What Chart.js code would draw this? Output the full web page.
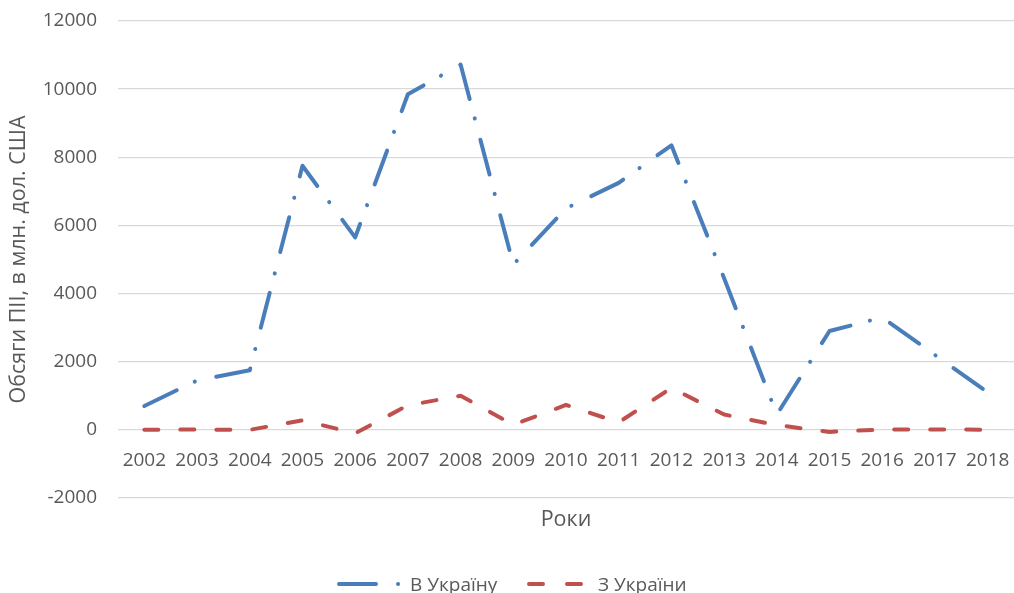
<!DOCTYPE html>
<html>
<head>
<meta charset="utf-8">
<script src="https://cdn.jsdelivr.net/npm/chart.js@4.4.1/dist/chart.umd.min.js"></script>
<style>
  html, body { margin: 0; padding: 0; background: #fff; }
  #wrap { width: 1014px; height: 593px; position: relative; }
</style>
</head>
<body>
<div id="wrap"><canvas id="fdiChart"></canvas></div>
<script>
// years on the category axis
const years = ['2002', '2003', '2004', '2005', '2006', '2007', '2008', '2009', '2010',
               '2011', '2012', '2013', '2014', '2015', '2016', '2017', '2018'];

// FDI into Ukraine, mln USD
const intoUkraine = [700, 1450, 1750, 7750, 5650, 9850, 10720, 4850, 6500,
                     7250, 8350, 4450, 450, 2900, 3300, 2200, 1100];

// FDI from Ukraine, mln USD
const fromUkraine = [0, 10, 0, 280, -100, 720, 1000, 150, 730,
                     220, 1230, 450, 140, -60, 10, 10, 5];

// value axis ticks
const yMin = -2000;
const yMax = 12000;
const yStep = 2000;

const seriesNames = ['В Україну', 'З України'];
const xTitle = 'Роки';
const yTitle = 'Обсяги ПІІ, в млн. дол. США';

const blue = '#4a7ebb';
const red = '#c0504d';
const textGray = '#595959';

Chart.defaults.font.family = '"Open Sans", sans-serif';
Chart.defaults.font.size = 19;
Chart.defaults.color = textGray;

// axis title "Роки" and the legend are drawn by hand (dash-dot samples)
const extraText = {
  id: 'extraText',
  afterDraw(chart) {
    const ctx = chart.ctx;
    const area = chart.chartArea;
    ctx.save();
    ctx.font = '21.5px "Open Sans"';
    ctx.fillStyle = textGray;
    ctx.textBaseline = 'alphabetic';
    ctx.textAlign = 'center';
    ctx.fillText(xTitle, (area.left + area.right) / 2, 526);

    // legend
    const ly = 584;
    ctx.lineCap = 'round';
    ctx.lineWidth = 4;
    ctx.strokeStyle = blue;
    ctx.beginPath();
    ctx.moveTo(339, ly);
    ctx.lineTo(376, ly);
    ctx.stroke();
    ctx.beginPath();
    ctx.moveTo(398, ly);
    ctx.lineTo(398.1, ly);
    ctx.stroke();

    ctx.strokeStyle = red;
    ctx.beginPath();
    ctx.moveTo(529, ly);
    ctx.lineTo(543, ly);
    ctx.moveTo(567, ly);
    ctx.lineTo(581, ly);
    ctx.stroke();

    ctx.font = '19px "Open Sans"';
    ctx.textAlign = 'left';
    ctx.fillText(seriesNames[0], 410, 591);
    ctx.fillText(seriesNames[1], 598, 591);
    ctx.restore();
  }
};

const ctx = document.getElementById('fdiChart').getContext('2d');
const fdiChart = new Chart(ctx, {
  type: 'line',
  data: {
    labels: years,
    datasets: [
      {
        label: seriesNames[0],
        data: intoUkraine,
        borderColor: blue,
        backgroundColor: blue,
        borderWidth: 4,
        borderCapStyle: 'round',
        borderJoinStyle: 'round',
        borderDash: [36, 20, 0.1, 22],
        pointRadius: 0,
        tension: 0
      },
      {
        label: seriesNames[1],
        data: fromUkraine,
        borderColor: red,
        backgroundColor: red,
        borderWidth: 4,
        borderCapStyle: 'round',
        borderJoinStyle: 'round',
        borderDash: [14, 22],
        pointRadius: 0,
        tension: 0
      }
    ]
  },
  options: {
    responsive: true,
    maintainAspectRatio: false,
    devicePixelRatio: 1,
    animation: false,
    layout: {
      padding: { top: 21, bottom: 95, left: 0, right: 0 }
    },
    scales: {
      x: {
        type: 'category',
        offset: true,
        position: { y: 0 },
        grid: { display: false, drawTicks: false },
        border: { display: false },
        ticks: {
          color: textGray,
          font: { size: 19 },
          padding: 19,
          maxRotation: 0,
          autoSkip: false
        },
        afterFit(scale) {
          scale.paddingLeft = 0;
          scale.paddingRight = 0;
        }
      },
      y: {
        min: yMin,
        max: yMax,
        ticks: {
          stepSize: yStep,
          color: textGray,
          font: { size: 19 },
          padding: 21,
          callback: (value) => String(value)
        },
        grid: {
          color: '#d9d9d9',
          lineWidth: 1.3,
          drawTicks: false
        },
        border: { display: false },
        title: {
          display: true,
          text: yTitle,
          color: textGray,
          font: { size: 21.5 },
          padding: { top: 6, bottom: 0 }
        },
        afterFit(scale) {
          scale.width = 118;
          scale.paddingTop = 0;
          scale.paddingBottom = 0;
        }
      }
    },
    plugins: {
      legend: { display: false },
      tooltip: { enabled: false }
    }
  },
  plugins: [extraText]
});
</script>
</body>
</html>
